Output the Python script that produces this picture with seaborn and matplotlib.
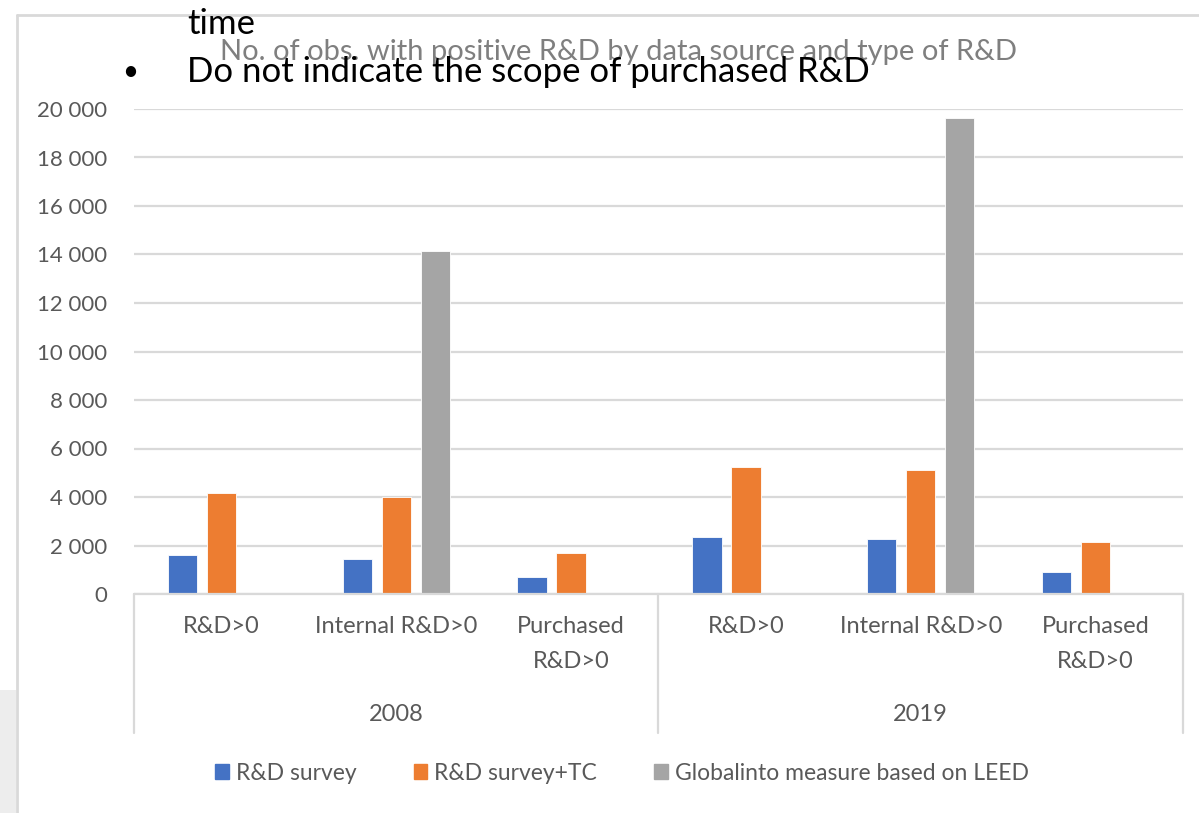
import numpy as np
import pandas as pd
import matplotlib
matplotlib.use("Agg")
import matplotlib.pyplot as plt
from matplotlib.lines import Line2D
from matplotlib.patches import Rectangle
import seaborn as sns

# data
years = ["2008", "2019"]
rd_types = ["R&D>0", "Internal R&D>0", "Purchased\nR&D>0"]
sources = ["R&D survey", "R&D survey+TC", "Globalinto measure based on LEED"]
rd_survey = [1620, 1440, 700, 2360, 2250, 900]
rd_survey_tc = [4160, 3990, 1690, 5220, 5110, 2160]
globalinto = [np.nan, 14150, np.nan, np.nan, 19620, np.nan]

colors = ["#4472C4", "#ED7D31", "#A5A5A5"]
text_col = "#595959"
grid_col = "#D9D9D9"

slots = [f"{y}|{t}" for y in years for t in rd_types]
rows = []
for src, vals in zip(sources, [rd_survey, rd_survey_tc, globalinto]):
    for s, v in zip(slots, vals):
        rows.append({"slot": s, "source": src, "value": v})
df = pd.DataFrame(rows)

sns.set_style("white")
plt.rcParams["font.family"] = ["Lato", "DejaVu Sans"]

fig = plt.figure(figsize=(11.99, 8.13), dpi=100)
ax = fig.add_axes([134 / 1199, 1 - 594 / 813, (1183 - 134) / 1199, (594 - 109) / 813])

sns.barplot(data=df, x="slot", y="value", hue="source", hue_order=sources,
            order=slots, palette=colors, saturation=1, width=0.67, gap=0.25,
            edgecolor="white", linewidth=0.6, errorbar=None, legend=False, ax=ax)

ax.set_ylim(0, 20000)
ax.set_xlim(-0.5, len(slots) - 0.5)
ax.set_yticks(np.arange(0, 20001, 2000))
ax.set_yticklabels([f"{v:,}".replace(",", " ") for v in range(0, 20001, 2000)],
                   fontsize=16, color=text_col)
ax.tick_params(axis="y", length=0, pad=19)
ax.yaxis.grid(True, color=grid_col, linewidth=1.6)
ax.set_axisbelow(True)
for sp in ax.spines.values():
    sp.set_visible(False)
ax.set_xlabel("")
ax.set_ylabel("")

ax.set_xticks(range(len(slots)))
ax.set_xticklabels(rd_types * len(years), fontsize=17, color=text_col,
                   linespacing=1.8, va="top")
ax.tick_params(axis="x", length=0, pad=16)

# category box below the axis
xt = ax.get_xaxis_transform()
ax.plot([-0.5, len(slots) - 0.5], [0, 0], color=grid_col, lw=1.6, clip_on=False, transform=xt)
for xv in [-0.5, 2.5, 5.5]:
    ax.plot([xv, xv], [0, -0.287], color=grid_col, lw=1.6, clip_on=False, transform=xt)
for i, y in enumerate(years):
    ax.text(1 + 3 * i, -0.249, y, transform=xt, ha="center", va="center",
            fontsize=17, color=text_col)

# legend
handles = [Rectangle((0, 0), 1, 1, color=c) for c in colors]
fig.legend(handles, sources, loc="center", bbox_to_anchor=(622 / 1199, 1 - 773 / 813),
           ncol=3, frameon=False, fontsize=16.5, labelcolor=text_col,
           handlelength=0.6, handleheight=0.6, handletextpad=0.3, columnspacing=2.5)

# slide frame pieces
fig.add_artist(Line2D([17 / 1199, 17 / 1199], [0, 1 - 15 / 813], transform=fig.transFigure,
                      color=grid_col, lw=2))
fig.add_artist(Line2D([17 / 1199, 1], [1 - 15 / 813, 1 - 15 / 813], transform=fig.transFigure,
                      color=grid_col, lw=2))
fig.add_artist(Rectangle((0, 0), 16 / 1199, (813 - 690) / 813, transform=fig.transFigure,
                         color="#EDEDED", lw=0))

# title and overlapping slide text
fig.text(618 / 1199, 1 - 52 / 813, "No. of obs. with positive R&D by data source and type of R&D",
         ha="center", va="center", fontsize=21, color="#7F7F7F")
fig.text(187 / 1199, 1 - 24 / 813, "time", ha="left", va="center", fontsize=25,
         color="black")
fig.text(130 / 1199, 1 - 72 / 813, "•", ha="center", va="center", fontsize=20, color="black")
fig.text(187 / 1199, 1 - 72 / 813, "Do not indicate the scope of purchased R&D",
         ha="left", va="center", fontsize=25, color="black")

fig.savefig("out.png", dpi=100)
